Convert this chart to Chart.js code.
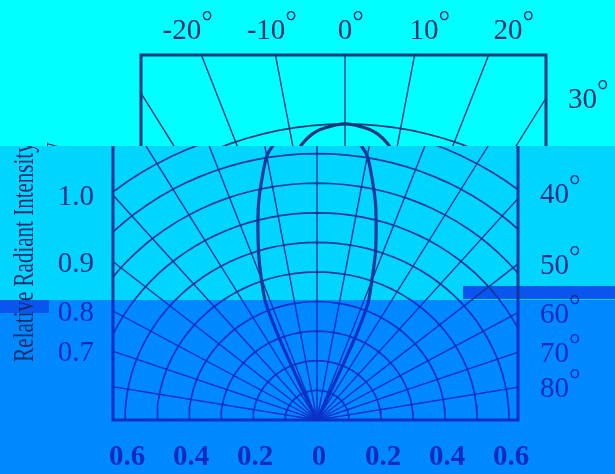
<!DOCTYPE html>
<html>
<head>
<meta charset="utf-8">
<script src="https://cdn.jsdelivr.net/npm/chart.js@4.4.1/dist/chart.umd.min.js"></script>
<style>
  html, body { margin: 0; padding: 0; background: #0088ff; }
  #wrap { position: relative; width: 615px; height: 474px; overflow: hidden; }
  #main { position: absolute; left: 0; top: 0; }
  #topband { position: absolute; left: 0; top: 0; width: 615px; height: 146px; overflow: hidden; background: #00ffff; }
  #shifted { position: absolute; left: 28px; top: 0; }
</style>
</head>
<body>
<div id="wrap">
  <canvas id="main" width="615" height="474"></canvas>
  <div id="topband"><canvas id="shifted" width="615" height="474"></canvas></div>
</div>
<script>
// polar grid
const radialAngles = [-80, -70, -60, -50, -40, -30, -20, -10, 0, 10, 20, 30, 40, 50, 60, 70, 80];
const arcRadii = [0.1, 0.2, 0.3, 0.4, 0.5, 0.6, 0.7, 0.8, 0.9, 1.0];

// radiation pattern (degrees, relative intensity)
const lobeAngles = [-24.5, -24, -23.5, -23, -22, -20, -18, -16, -14, -12, -10, -8, -6, -4, 0,
                    4, 6, 8, 10, 12, 14, 16, 18, 20, 22, 23, 23.5, 24, 24.5];
const lobeIntensity = [0, 0.09, 0.2, 0.32, 0.43, 0.51, 0.59, 0.67, 0.755, 0.83, 0.905, 0.945, 0.972, 0.987, 1.0,
                       0.987, 0.972, 0.945, 0.905, 0.83, 0.755, 0.67, 0.59, 0.5, 0.425, 0.32, 0.2, 0.09, 0];

// tick labels
const topAngleTicks = [-20, -10, 0, 10, 20];
const rightAngleTicks = [30, 40, 50, 60, 70, 80];
const leftTickLabels = ['1.0', '0.9', '0.8', '0.7'];
const leftTickAngles = [40, 50, 60, 70];
const bottomTicks = [-0.6, -0.4, -0.2, 0, 0.2, 0.4, 0.6];

const bandBg = ['#00ffff', '#00d5ff', '#0088ff'];
const bandInk = ['#14357c', '#12369c', '#0c2fc6'];
const bandText = ['#0f2c6c', '#112e86', '#0a2bbd'];
const BAND1 = 146, BAND2 = 300;

function polar(r, deg) {
    const a = deg * Math.PI / 180;
    return { x: r * Math.sin(a), y: r * Math.cos(a) };
}

function bandGradient(ctx, cols) {
    const g = ctx.createLinearGradient(0, 0, 0, 474);
    const s1 = BAND1 / 474, s2 = BAND2 / 474;
    g.addColorStop(0, cols[0]);
    g.addColorStop(s1, cols[0]);
    g.addColorStop(s1, cols[1]);
    g.addColorStop(s2, cols[1]);
    g.addColorStop(s2, cols[2]);
    g.addColorStop(1, cols[2]);
    return g;
}

const arcSteps = [];
for (let a = -90; a <= 90; a += 3) arcSteps.push(a);

const backdrop = {
    id: 'backdrop',
    beforeDraw(chart) {
        const ctx = chart.ctx;
        ctx.save();
        ctx.fillStyle = bandBg[0]; ctx.fillRect(0, 0, 615, BAND1);
        ctx.fillStyle = bandBg[1]; ctx.fillRect(0, BAND1, 615, BAND2 - BAND1);
        ctx.fillStyle = bandBg[2]; ctx.fillRect(0, BAND2, 615, 474 - BAND2);
        // glitch strips
        ctx.fillStyle = '#0a55ee';
        ctx.fillRect(463, 286, 152, 13);
        ctx.fillRect(0, 300, 49, 13);
        ctx.restore();
    }
};

function degLabel(ctx, txt, x, base, align) {
    const w = ctx.measureText(txt).width;
    let left = x;
    if (align === 'center') left = x - w / 2;
    if (align === 'right') left = x - w;
    ctx.textAlign = 'left';
    ctx.fillText(txt, left, base);
    ctx.fillText('\u00b0', left + w, base - 8);
}

const labels = {
    id: 'labels',
    afterDatasetsDraw(chart) {
        const ctx = chart.ctx;
        const xs = chart.scales.x, ys = chart.scales.y;
        const area = chart.chartArea;
        ctx.save();
        ctx.strokeStyle = chart.$ink;
        ctx.lineWidth = 3;
        ctx.strokeRect(area.left, area.top, area.right - area.left, area.bottom - area.top);

        ctx.fillStyle = chart.$text;
        ctx.textBaseline = 'alphabetic';
        ctx.font = '29px "Liberation Serif"';
        topAngleTicks.forEach(a => {
            const x = xs.getPixelForValue(1.4 * Math.tan(a * Math.PI / 180));
            degLabel(ctx, String(a), x, 39, 'center');
        });
        rightAngleTicks.forEach(a => {
            const y = ys.getPixelForValue(xs.max / Math.tan(a * Math.PI / 180));
            degLabel(ctx, String(a), 540, y + (a === 40 ? 5 : 10), 'left');
        });
        ctx.textAlign = 'right';
        leftTickLabels.forEach((t, i) => {
            const a = leftTickAngles[i];
            const y = ys.getPixelForValue(-xs.min / Math.tan(a * Math.PI / 180));
            ctx.fillText(t, 94, y + 10);
        });
        ctx.font = 'bold 29px "Liberation Serif"';
        ctx.textAlign = 'center';
        bottomTicks.forEach(v => {
            const x = xs.getPixelForValue(v) + 2;
            ctx.fillText(v === 0 ? '0' : Math.abs(v).toFixed(1), x, 465);
        });

        // axis title
        ctx.translate(25, 252);
        ctx.rotate(-Math.PI / 2);
        ctx.scale(1, 1.45);
        ctx.font = '21px "Liberation Serif"';
        ctx.textBaseline = 'middle';
        ctx.fillText('Relative Radiant Intensity', 0, 0);
        ctx.restore();
    }
};

function makeChart(canvas) {
    const ctx = canvas.getContext('2d');
    const ink = bandGradient(ctx, bandInk);

    const datasets = [];
    radialAngles.forEach(a => {
        datasets.push({ data: [polar(0, a), polar(3, a)], borderColor: ink, borderWidth: 1.4 });
    });
    arcRadii.forEach(r => {
        datasets.push({ data: arcSteps.map(a => polar(r, a)), borderColor: ink, borderWidth: 1.7 });
    });
    datasets.push({
        data: lobeAngles.map((a, i) => polar(lobeIntensity[i], a)),
        borderColor: ink,
        borderWidth: 3.2,
        tension: 0.25
    });
    datasets.forEach(d => { d.showLine = true; d.pointRadius = 0; d.fill = false; });

    const chart = new Chart(canvas, {
        type: 'scatter',
        data: { datasets: datasets },
        options: {
            responsive: false,
            animation: false,
            devicePixelRatio: 1,
            events: [],
            layout: { padding: { left: 113, right: 97, top: 55, bottom: 54 } },
            plugins: { legend: { display: false }, tooltip: { enabled: false } },
            scales: {
                x: { type: 'linear', min: -0.6375, max: 0.628, display: false },
                y: { type: 'linear', min: 0, max: 1.233, display: false }
            }
        },
        plugins: [backdrop, labels]
    });
    chart.$ink = ink;
    chart.$text = bandGradient(ctx, bandText);
    chart.draw();
    return chart;
}

makeChart(document.getElementById('main'));
makeChart(document.getElementById('shifted'));
</script>
</body>
</html>
